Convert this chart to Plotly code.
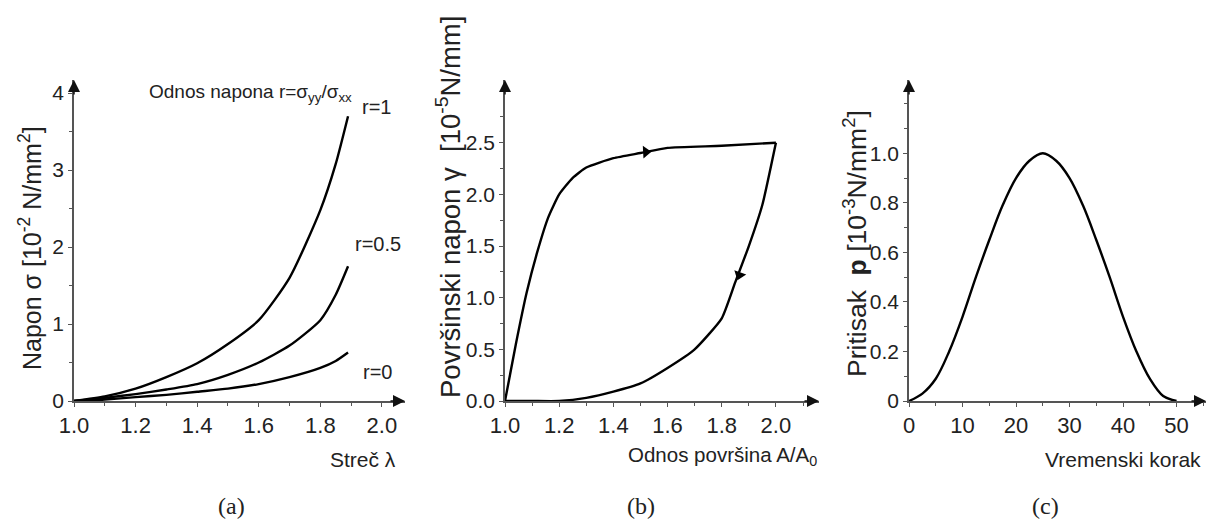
import plotly.graph_objects as go

# (a) stress vs stretch for three stress ratios
stretch = [1.0, 1.1, 1.2, 1.3, 1.4, 1.5, 1.6, 1.7, 1.8, 1.85, 1.89]
stress_r1 = [0.0, 0.06, 0.16, 0.31, 0.49, 0.74, 1.05, 1.60, 2.48, 3.08, 3.70]
stress_r05 = [0.0, 0.04, 0.09, 0.15, 0.22, 0.34, 0.50, 0.72, 1.05, 1.38, 1.75]
stress_r0 = [0.0, 0.02, 0.05, 0.08, 0.12, 0.16, 0.22, 0.31, 0.43, 0.52, 0.63]
curve_labels = ["r=1", "r=0.5", "r=0"]

# (b) surface tension loop: expansion branch then compression branch
area_up = [1.0, 1.04, 1.08, 1.12, 1.16, 1.2, 1.25, 1.3, 1.4, 1.5, 1.6, 1.8, 2.0]
tension_up = [0.0, 0.55, 1.05, 1.45, 1.78, 2.0, 2.16, 2.26, 2.35, 2.40, 2.45, 2.47, 2.50]
area_down = [2.0, 1.95, 1.9, 1.85, 1.8, 1.7, 1.6, 1.5, 1.4, 1.3, 1.2, 1.1, 1.0]
tension_down = [2.50, 1.90, 1.50, 1.15, 0.80, 0.50, 0.32, 0.17, 0.09, 0.03, 0.0, 0.0, 0.0]
dir_x = [1.52, 1.865]
dir_y = [2.41, 1.22]

# (c) pressure pulse over time steps
time_step = [0, 2.5, 5, 7.5, 10, 12.5, 15, 17.5, 20, 22.5, 25,
             27.5, 30, 32.5, 35, 37.5, 40, 42.5, 45, 47.5, 50]
pressure = [0.0, 0.03, 0.09, 0.20, 0.34, 0.50, 0.65, 0.79, 0.90, 0.97, 1.0,
            0.97, 0.90, 0.79, 0.65, 0.50, 0.34, 0.20, 0.09, 0.02, 0.0]

W, H = 1206, 519
SANS = "Liberation Sans, Arial, sans-serif"
SERIF = "Liberation Serif, Times New Roman, serif"
LINE = dict(color="black", width=2.4)


def px(x):
    return x / W


def py(y):
    return 1 - y / H


fig = go.Figure()

for ys, name in zip([stress_r1, stress_r05, stress_r0], curve_labels):
    fig.add_trace(go.Scatter(x=stretch, y=ys, mode="lines", name=name,
                             line=dict(LINE, shape="spline", smoothing=0.6),
                             xaxis="x", yaxis="y"))

fig.add_trace(go.Scatter(x=area_up, y=tension_up, mode="lines",
                         line=dict(LINE, shape="spline", smoothing=0.5),
                         xaxis="x2", yaxis="y2"))
fig.add_trace(go.Scatter(x=area_down, y=tension_down, mode="lines",
                         line=dict(LINE, shape="spline", smoothing=0.5),
                         xaxis="x2", yaxis="y2"))
fig.add_trace(go.Scatter(x=dir_x, y=dir_y, mode="markers",
                         marker=dict(symbol=["triangle-right", "triangle-down"],
                                     angle=[-3, 20], size=11, color="black"),
                         xaxis="x2", yaxis="y2"))

fig.add_trace(go.Scatter(x=time_step, y=pressure, mode="lines",
                         line=dict(LINE, shape="spline", smoothing=1.0),
                         xaxis="x3", yaxis="y3"))

ydom = [py(401), py(80)]
xtickfont = dict(family=SANS, size=22, color="#222")
ytickfont = dict(family=SANS, size=21, color="#222")
minor_common = dict(ticklen=3, tickcolor="#555", ticks="outside", tickwidth=1.2)
axis_common = dict(showline=True, linecolor="#555", linewidth=1.5,
                   showgrid=False, zeroline=False, ticks="outside",
                   ticklen=4, tickwidth=1.2, tickcolor="#555",
                   fixedrange=True, automargin=False)
xcommon = dict(axis_common, tickfont=xtickfont)
ycommon = dict(axis_common, tickfont=ytickfont)

fig.update_layout(
    width=W, height=H,
    margin=dict(l=0, r=0, t=0, b=0, autoexpand=False),
    paper_bgcolor="white", plot_bgcolor="white",
    showlegend=False,
    xaxis=dict(xcommon, domain=[px(74), px(405)], range=[1.0, 2.075],
               tickvals=[1.0, 1.2, 1.4, 1.6, 1.8, 2.0],
               ticktext=["1.0", "1.2", "1.4", "1.6", "1.8", "2.0"],
               minor=dict(minor_common, dtick=0.1),
               anchor="y"),
    yaxis=dict(ycommon, domain=ydom, range=[0, 4.17], dtick=1,
               minor=dict(minor_common, dtick=0.5),
               anchor="x"),
    xaxis2=dict(xcommon, domain=[px(505), px(819)], range=[1.0, 2.159],
                tickvals=[1.0, 1.2, 1.4, 1.6, 1.8, 2.0],
                ticktext=["1.0", "1.2", "1.4", "1.6", "1.8", "2.0"],
                minor=dict(minor_common, dtick=0.1),
                anchor="y2"),
    yaxis2=dict(ycommon, domain=ydom, range=[0, 3.107],
                tickvals=[0, 0.5, 1.0, 1.5, 2.0, 2.5],
                ticktext=["0.0", "0.5", "1.0", "1.5", "2.0", "2.5"],
                minor=dict(minor_common, dtick=0.25),
                anchor="x2"),
    xaxis3=dict(xcommon, domain=[px(909), px(1206)], range=[0, 55.5],
                tickvals=[0, 10, 20, 30, 40, 50],
                minor=dict(minor_common, dtick=5),
                anchor="y3"),
    yaxis3=dict(ycommon, domain=ydom, range=[0, 1.296],
                tickvals=[0, 0.2, 0.4, 0.6, 0.8, 1.0],
                ticktext=["0", "0.2", "0.4", "0.6", "0.8", "1.0"],
                minor=dict(minor_common, dtick=0.1),
                anchor="x3"),
)

ann = []
# axis arrowheads
for i in ["", "2", "3"]:
    ann.append(dict(xref=f"x{i} domain", yref=f"y{i} domain", x=0, y=1,
                    ax=0, ay=16, showarrow=True, arrowhead=2, arrowsize=1.6,
                    arrowwidth=1.5, arrowcolor="#111", text=""))
    ann.append(dict(xref=f"x{i} domain", yref=f"y{i} domain", x=1, y=0,
                    ax=-16, ay=0, showarrow=True, arrowhead=2, arrowsize=1.6,
                    arrowwidth=1.5, arrowcolor="#111", text=""))


def txt(s, x, y, size=24, angle=0, xanchor="center", family=SANS):
    ann.append(dict(xref="paper", yref="paper", x=px(x), y=py(y), text=s,
                    showarrow=False, textangle=angle, xanchor=xanchor,
                    yanchor="middle", borderpad=0,
                    font=dict(family=family, size=size, color="#222")))


# panel (a) texts
txt("Odnos napona r=σ<sub>yy</sub>/σ<sub>xx</sub>", 148, 93, size=19, xanchor="left")
txt("r=1", 376, 107, size=20)
txt("r=0.5", 378, 244, size=20)
txt("r=0", 377, 372, size=20)
txt("Napon σ [10<sup>-2</sup> N/mm<sup>2</sup>]", 30, 248, size=25, angle=-90)
txt("Streč λ", 397, 459, size=21, xanchor="right")
txt("(a)", 231, 506, size=24, family=SERIF)

# panel (b) texts
txt("Površinski napon γ  [10<sup>-5</sup>N/mm]", 448, 207, size=27.5, angle=-90)
txt("Odnos površina A/A<sub>0</sub>", 818, 456, size=20.5, xanchor="right")
txt("(b)", 641, 506, size=24, family=SERIF)

# panel (c) texts
txt("Pritisak  <b>p</b> [10<sup>-3</sup>N/mm<sup>2</sup>]", 855, 244, size=26.5, angle=-90)
txt("Vremenski korak", 1202, 459, size=21, xanchor="right")
txt("(c)", 1045, 506, size=24, family=SERIF)

fig.update_layout(annotations=ann)
fig.write_html("out.html")
